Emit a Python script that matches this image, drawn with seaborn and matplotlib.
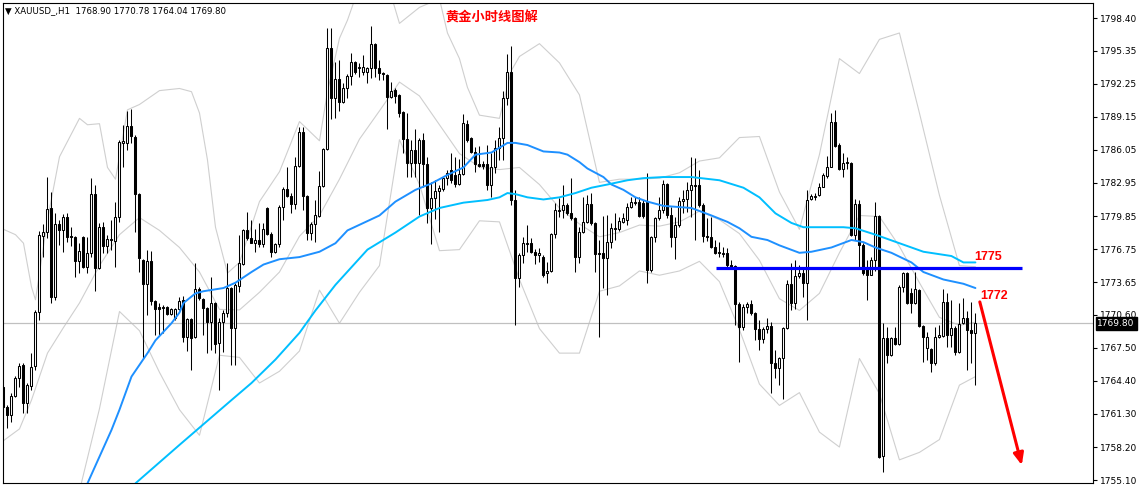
import numpy as np
import matplotlib
matplotlib.use("Agg")
import matplotlib.pyplot as plt
import matplotlib.transforms as mtransforms
import seaborn as sns


# XAUUSD H1 candles (oldest first)
opens = [
    1763.8, 1761.95, 1761.2, 1763.0, 1764.7, 1765.9, 1762.3, 1763.9, 1765.8, 1770.9,
    1778.0, 1778.35, 1780.6, 1772.3, 1779.1, 1778.5, 1779.8, 1777.95, 1777.9, 1775.6,
    1777.9, 1775.1, 1776.4, 1781.9, 1775.0, 1778.8, 1777.0, 1777.7, 1777.5, 1779.8,
    1786.7, 1786.7, 1788.3, 1787.25, 1781.9, 1775.7, 1773.5, 1775.6, 1771.9, 1771.3,
    1771.3, 1771.3, 1770.7, 1770.3, 1771.1, 1772.0, 1768.5, 1770.2, 1768.5, 1773.0,
    1772.1, 1771.2, 1769.9, 1771.7, 1767.95, 1769.9, 1770.8, 1773.1, 1769.35, 1773.3,
    1775.35, 1778.5, 1777.8, 1777.3, 1777.6, 1777.2, 1780.6, 1778.2, 1776.5, 1777.2,
    1780.7, 1782.4, 1781.7, 1781.0, 1784.5, 1787.7, 1781.7, 1778.25, 1779.1, 1779.85,
    1782.7, 1786.1, 1795.6, 1790.9, 1792.7, 1790.5, 1791.85, 1793.0, 1794.3, 1793.7,
    1793.3, 1793.3, 1793.7, 1796.0, 1793.7, 1793.25, 1793.1, 1791.0, 1791.65, 1791.2,
    1789.6, 1787.1, 1784.8, 1786.0, 1784.8, 1787.0, 1784.7, 1780.6, 1781.5, 1782.2,
    1782.4, 1783.4, 1784.2, 1783.7, 1782.85, 1783.8, 1788.5, 1787.15, 1785.85, 1784.7,
    1784.7, 1784.7, 1782.75, 1784.4, 1786.2, 1787.2, 1790.9, 1793.3, 1781.35, 1774.0,
    1776.2, 1777.25, 1777.3, 1776.5, 1776.2, 1776.0, 1774.5, 1774.7, 1778.2, 1780.35,
    1780.4, 1780.9, 1780.1, 1779.65, 1776.0, 1778.35, 1779.3, 1781.0, 1779.2, 1776.4,
    1776.4, 1775.9, 1777.4, 1778.65, 1778.6, 1779.3, 1779.5, 1780.7, 1781.1, 1781.2,
    1781.05, 1781.2, 1774.8, 1777.9, 1779.65, 1780.4, 1782.85, 1779.95, 1777.9, 1779.0,
    1781.25, 1781.45, 1782.3, 1782.75, 1782.75, 1780.9, 1778.0, 1777.9, 1776.95, 1776.45,
    1776.4, 1776.4, 1775.25, 1775.15, 1771.6, 1769.45, 1771.3, 1771.6, 1770.75, 1769.25,
    1768.3, 1769.25, 1769.55, 1766.1, 1765.6, 1766.55, 1769.35, 1773.5, 1771.7, 1774.2,
    1774.5, 1773.6, 1781.45, 1781.6, 1781.8, 1782.55, 1783.6, 1784.45, 1788.65, 1786.5,
    1784.25, 1784.9, 1784.8, 1778.05, 1780.95, 1777.1, 1774.95, 1774.3, 1775.7, 1779.85,
    1757.35, 1768.4, 1766.8, 1768.4, 1767.85, 1773.2, 1774.5, 1772.6, 1771.7, 1772.9,
    1769.55, 1767.5, 1767.4, 1766.05, 1768.5, 1768.6, 1771.8, 1768.7, 1769.35, 1767.1,
    1769.8, 1770.3, 1769.2, 1768.90,
]
highs = [
    1764.0, 1762.1, 1763.3, 1764.9, 1766.1, 1766.1, 1764.2, 1767.0, 1771.0, 1778.4,
    1779.1, 1783.5, 1782.1, 1780.1, 1779.5, 1780.0, 1780.1, 1778.8, 1778.0, 1777.3,
    1778.0, 1777.9, 1783.4, 1782.8, 1779.2, 1779.3, 1778.1, 1779.5, 1781.2, 1787.0,
    1788.4, 1789.7, 1789.9, 1787.4, 1782.0, 1775.8, 1776.7, 1776.6, 1772.0, 1771.7,
    1771.5, 1771.4, 1771.2, 1771.2, 1772.3, 1772.4, 1770.3, 1770.3, 1775.4, 1773.2,
    1772.2, 1771.3, 1774.1, 1771.8, 1770.3, 1771.0, 1775.4, 1773.2, 1773.6, 1778.1,
    1778.6, 1780.2, 1779.5, 1778.6, 1779.2, 1779.2, 1780.7, 1778.35, 1777.3, 1780.9,
    1782.6, 1784.4, 1782.0, 1785.4, 1788.2, 1788.2, 1781.8, 1779.3, 1781.35, 1784.1,
    1786.2, 1797.5, 1797.5, 1794.3, 1794.5, 1792.3, 1793.2, 1795.1, 1794.4, 1794.2,
    1794.9, 1793.8, 1797.7, 1796.1, 1794.5, 1793.3, 1793.2, 1792.4, 1791.8, 1791.3,
    1789.7, 1789.5, 1787.0, 1788.0, 1787.2, 1787.6, 1785.4, 1783.0, 1783.2, 1782.75,
    1783.5, 1784.2, 1785.8, 1785.4, 1785.2, 1789.4, 1788.85, 1787.25, 1786.3, 1786.4,
    1785.0, 1786.5, 1785.75, 1787.0, 1788.2, 1791.6, 1795.0, 1795.8, 1782.3, 1776.4,
    1777.9, 1779.0, 1777.8, 1776.75, 1776.85, 1776.2, 1775.5, 1778.25, 1781.1, 1781.5,
    1782.75, 1781.1, 1783.4, 1779.75, 1778.8, 1781.6, 1781.8, 1782.0, 1779.3, 1777.6,
    1779.85, 1779.95, 1779.2, 1780.1, 1779.75, 1780.1, 1781.1, 1781.6, 1781.6, 1781.6,
    1781.35, 1783.9, 1778.0, 1779.75, 1781.6, 1783.2, 1782.95, 1780.7, 1779.75, 1781.6,
    1782.3, 1783.0, 1785.4, 1785.3, 1784.2, 1781.1, 1779.65, 1779.75, 1777.6, 1777.4,
    1776.95, 1776.85, 1775.7, 1775.25, 1771.8, 1771.6, 1771.8, 1772.0, 1770.85, 1770.1,
    1769.45, 1770.3, 1769.9, 1767.3, 1766.6, 1769.45, 1773.85, 1775.45, 1775.75, 1775.25,
    1774.95, 1782.3, 1781.9, 1782.0, 1782.95, 1783.9, 1785.5, 1789.5, 1789.8, 1786.7,
    1785.75, 1785.4, 1784.9, 1781.45, 1781.35, 1777.3, 1775.7, 1776.0, 1781.15, 1779.95,
    1769.8, 1769.45, 1768.5, 1769.45, 1773.4, 1774.6, 1774.6, 1773.1, 1774.6, 1773.0,
    1769.65, 1769.0, 1767.5, 1769.45, 1769.6, 1773.0, 1772.6, 1771.95, 1769.55, 1771.7,
    1772.2, 1770.95, 1771.8, 1770.78,
]
lows = [
    1760.0, 1760.0, 1760.55, 1762.9, 1763.8, 1761.4, 1761.4, 1763.55, 1765.4, 1770.1,
    1776.0, 1777.8, 1771.7, 1772.0, 1777.1, 1776.5, 1777.4, 1777.0, 1774.1, 1774.5,
    1775.0, 1774.5, 1776.0, 1772.8, 1774.9, 1776.4, 1776.4, 1776.7, 1775.1, 1779.3,
    1784.4, 1786.0, 1786.7, 1778.35, 1774.6, 1766.5, 1770.6, 1771.5, 1768.7, 1768.7,
    1768.9, 1770.6, 1770.6, 1770.1, 1771.0, 1768.0, 1767.2, 1765.4, 1768.4, 1772.0,
    1768.7, 1767.0, 1767.3, 1767.0, 1763.5, 1767.1, 1770.4, 1765.9, 1765.9, 1772.7,
    1775.3, 1777.6, 1777.3, 1776.5, 1776.9, 1776.9, 1778.1, 1776.0, 1776.4, 1776.9,
    1779.5, 1781.6, 1780.1, 1780.5, 1784.4, 1780.4, 1777.6, 1777.6, 1777.4, 1779.8,
    1782.6, 1786.0, 1788.9, 1789.0, 1789.7, 1790.4, 1790.9, 1792.1, 1793.2, 1792.9,
    1793.1, 1792.3, 1792.8, 1792.9, 1792.6, 1792.6, 1788.0, 1790.9, 1790.4, 1789.1,
    1785.75, 1783.5, 1783.5, 1783.5, 1779.9, 1782.6, 1779.2, 1777.2, 1779.6, 1778.35,
    1782.2, 1782.8, 1782.9, 1782.6, 1782.75, 1783.7, 1786.8, 1785.75, 1784.0, 1784.4,
    1784.3, 1782.3, 1781.6, 1783.9, 1785.1, 1785.1, 1790.25, 1780.9, 1769.6, 1773.2,
    1775.45, 1776.5, 1776.4, 1775.35, 1775.5, 1774.1, 1773.6, 1774.6, 1777.8, 1779.75,
    1779.65, 1779.95, 1779.5, 1774.6, 1775.45, 1778.25, 1779.2, 1779.0, 1774.6, 1768.5,
    1773.1, 1772.45, 1776.85, 1777.6, 1778.45, 1779.2, 1779.0, 1780.6, 1780.9, 1779.75,
    1779.65, 1773.55, 1774.6, 1777.4, 1779.5, 1780.1, 1779.65, 1776.95, 1775.8, 1778.8,
    1780.1, 1780.2, 1779.75, 1777.6, 1780.7, 1777.4, 1777.5, 1776.85, 1776.3, 1776.0,
    1776.0, 1775.1, 1775.0, 1769.6, 1766.2, 1769.2, 1770.75, 1770.6, 1768.25, 1767.3,
    1767.95, 1768.9, 1763.3, 1764.7, 1764.0, 1762.7, 1769.25, 1771.05, 1771.1, 1774.05,
    1772.25, 1770.1, 1781.35, 1781.35, 1781.7, 1782.55, 1783.4, 1784.4, 1786.3, 1784.2,
    1783.5, 1784.25, 1777.95, 1777.6, 1775.1, 1774.3, 1771.95, 1774.3, 1774.7, 1757.2,
    1755.85, 1766.1, 1766.7, 1767.75, 1767.75, 1772.75, 1771.6, 1770.75, 1771.6, 1769.45,
    1766.2, 1766.35, 1765.25, 1765.9, 1768.4, 1768.5, 1767.6, 1767.6, 1766.8, 1767.0,
    1769.7, 1765.4, 1766.05, 1764.04,
]
closes = [
    1761.95, 1761.2, 1763.0, 1764.7, 1765.8, 1762.3, 1764.0, 1765.7, 1770.9, 1778.1,
    1778.35, 1780.5, 1772.3, 1779.1, 1778.5, 1779.8, 1777.9, 1777.85, 1775.6, 1776.6,
    1775.1, 1776.4, 1781.9, 1775.0, 1778.8, 1777.0, 1777.7, 1777.6, 1779.8, 1786.8,
    1786.9, 1788.3, 1787.3, 1781.9, 1775.9, 1773.5, 1775.6, 1771.9, 1771.1, 1771.1,
    1771.2, 1770.7, 1771.1, 1771.1, 1771.9, 1768.5, 1770.2, 1768.4, 1773.0, 1772.2,
    1771.2, 1769.9, 1771.7, 1767.9, 1769.9, 1770.8, 1773.1, 1769.4, 1773.4, 1775.4,
    1778.5, 1777.8, 1777.3, 1777.6, 1777.2, 1778.6, 1778.2, 1776.5, 1777.2, 1780.7,
    1782.4, 1781.7, 1781.0, 1784.5, 1787.7, 1781.7, 1778.25, 1779.1, 1779.95, 1782.7,
    1786.1, 1795.6, 1790.9, 1792.7, 1790.5, 1791.8, 1793.0, 1794.3, 1793.3, 1793.8,
    1793.8, 1793.7, 1796.0, 1793.7, 1793.25, 1793.15, 1791.0, 1791.6, 1791.1, 1789.5,
    1787.1, 1784.8, 1786.0, 1784.8, 1787.0, 1784.7, 1780.6, 1781.5, 1782.2, 1782.5,
    1783.4, 1783.9, 1783.2, 1782.85, 1783.8, 1788.6, 1787.0, 1785.85, 1784.7, 1784.5,
    1784.5, 1782.75, 1784.4, 1786.2, 1787.2, 1790.9, 1793.3, 1781.35, 1774.0, 1776.2,
    1777.3, 1777.35, 1776.5, 1776.2, 1776.4, 1774.3, 1774.7, 1778.2, 1780.4, 1780.45,
    1780.9, 1780.1, 1779.65, 1776.0, 1778.35, 1779.3, 1781.0, 1779.2, 1776.3, 1776.3,
    1775.9, 1777.4, 1778.7, 1778.75, 1779.4, 1779.65, 1780.7, 1781.2, 1781.2, 1779.85,
    1779.85, 1774.8, 1777.9, 1779.65, 1780.4, 1782.85, 1779.95, 1777.9, 1779.0, 1781.25,
    1781.45, 1782.3, 1782.75, 1782.65, 1780.9, 1778.0, 1777.9, 1776.95, 1776.4, 1776.35,
    1776.3, 1775.25, 1775.1, 1771.6, 1769.45, 1771.3, 1771.6, 1770.75, 1769.25, 1768.3,
    1769.25, 1769.55, 1766.1, 1765.6, 1766.55, 1769.35, 1773.5, 1771.7, 1774.2, 1774.5,
    1773.6, 1781.35, 1781.7, 1781.7, 1782.55, 1783.7, 1784.45, 1788.65, 1786.4, 1784.25,
    1784.8, 1784.8, 1778.05, 1780.95, 1777.1, 1774.5, 1774.3, 1775.7, 1779.85, 1757.25,
    1768.4, 1766.8, 1768.4, 1767.85, 1773.2, 1774.5, 1771.7, 1771.7, 1773.0, 1769.55,
    1768.5, 1768.5, 1766.05, 1768.5, 1768.7, 1771.8, 1768.7, 1769.35, 1767.1, 1769.7,
    1770.3, 1769.15, 1768.9, 1769.80,
]

# bollinger envelope (light grey), sampled by bar index
upper_x = [0, 3, 5, 7, 8, 9, 11, 14, 19, 21, 24, 26, 28, 31, 34, 39, 44, 47, 49, 51,
           53, 56, 59, 64, 69, 74, 79, 81, 84, 86, 89, 94, 99, 104, 109, 111, 114, 116, 119, 124,
           127, 129, 134, 139, 144, 149, 154, 159, 164, 169, 174, 179, 184, 189, 194, 199, 204, 209, 214, 219,
           224, 229, 234, 239, 243]
upper_y = [1778.6, 1778.1, 1777.3, 1773.2, 1772.0, 1774.5, 1779.5, 1785.4, 1789.0, 1788.4,
           1788.5, 1784.4, 1783.3, 1789.8, 1790.3, 1791.6, 1791.8, 1791.5, 1789.5, 1785.1,
           1778.8, 1774.5, 1775.5, 1781.2, 1784.0, 1788.7, 1786.9, 1791.5, 1796.5, 1798.2,
           1801.4, 1804.2, 1797.9, 1799.4, 1800.2, 1797.0, 1794.6, 1791.9, 1789.3, 1789.0,
           1793.5, 1794.8, 1796.0, 1794.2, 1791.2, 1783.0, 1783.3, 1783.3, 1783.4, 1783.9,
           1785.0, 1785.3, 1787.2, 1787.3, 1782.1, 1778.6, 1785.6, 1794.6, 1793.2, 1796.4,
           1797.0, 1789.5, 1781.8, 1775.2, 1775.1]
mid_x = [0, 4, 7, 11, 15, 19, 24, 29, 34, 39, 44, 49, 54, 59, 64, 69, 74, 79, 84, 89,
         94, 99, 104, 109, 114, 119, 124, 129, 134, 139, 144, 149, 154, 159, 164, 169, 174, 179, 184, 189,
         194, 199, 204, 209, 214, 219, 224, 229, 234, 239, 243]
mid_y = [1758.8, 1759.9, 1762.6, 1767.0, 1769.4, 1771.7, 1775.2, 1778.1, 1779.7, 1778.5,
         1776.9, 1774.6, 1771.1, 1771.05, 1772.7, 1774.6, 1777.95, 1779.9, 1783.3, 1787.05,
         1789.7, 1792.4, 1791.1, 1788.4, 1785.7, 1784.45, 1784.2, 1784.4, 1782.8, 1780.6,
         1779.1, 1777.9, 1778.3, 1779.0, 1778.9, 1779.3, 1780.3, 1779.5, 1778.2, 1775.7,
         1772.1, 1771.0, 1772.6, 1776.4, 1779.9, 1779.8, 1777.0, 1773.6, 1770.35, 1769.6,
         1769.9]
lower_x = [0, 7, 14, 19, 24, 29, 34, 39, 44, 49, 54, 59, 64, 69, 74, 79, 84, 89, 94, 99,
           104, 109, 114, 119, 124, 129, 134, 139, 144, 149, 154, 159, 164, 169, 174, 179, 184, 189, 194, 199,
           204, 209, 214, 219, 224, 229, 234, 239, 243]
lower_y = [1739.0, 1752.0, 1753.4, 1754.1, 1761.8, 1770.9, 1769.1, 1765.2, 1761.7, 1759.3,
           1766.8, 1766.6, 1764.2, 1765.3, 1767.2, 1772.9, 1769.8, 1772.7, 1775.2, 1787.0,
           1782.8, 1776.6, 1776.7, 1779.4, 1779.3, 1773.9, 1769.3, 1767.0, 1767.0, 1772.8,
           1773.3, 1774.7, 1774.3, 1774.7, 1775.6, 1773.7, 1769.2, 1764.1, 1762.1, 1763.3,
           1759.6, 1758.2, 1766.5, 1763.2, 1757.0, 1757.7, 1758.9, 1764.0, 1764.8]

# the two moving averages
ma_fast_x = [21, 27, 29, 32, 36, 38, 42, 44, 45, 48, 50, 55, 58, 60, 62, 65, 69, 74, 79, 81,
             83, 86, 90, 94, 98, 103, 107, 111, 115, 118, 122, 126, 128, 131, 135, 139, 141, 144, 146, 150,
             152, 155, 158, 161, 165, 172, 177, 181, 184, 187, 191, 194, 199, 202, 207, 212, 215, 218, 222, 227,
             230, 235, 240, 243]
ma_fast_y = [1754.8, 1759.8, 1761.7, 1764.8, 1767.0, 1768.2, 1769.8, 1770.8, 1771.7, 1772.6,
             1772.8, 1773.1, 1773.6, 1774.1, 1774.6, 1775.3, 1775.8, 1776.0, 1776.5, 1776.9,
             1777.3, 1778.5, 1779.2, 1779.9, 1781.2, 1782.3, 1782.9, 1783.7, 1784.4, 1785.6,
             1785.8, 1786.7, 1786.7, 1786.5, 1785.9, 1785.8, 1785.6, 1784.9, 1784.3, 1783.5,
             1782.8, 1782.3, 1781.6, 1781.2, 1780.8, 1780.6, 1779.9, 1779.3, 1778.7, 1777.9,
             1777.6, 1777.1, 1776.4, 1776.5, 1776.9, 1777.6, 1777.4, 1776.9, 1776.4, 1775.5,
             1774.6, 1773.9, 1773.5, 1773.1]
ma_slow_x = [33, 44, 57, 62, 68, 74, 78, 83, 91, 98, 104, 109, 115, 121, 124, 126, 128, 131, 135, 139,
             143, 147, 151, 156, 160, 165, 172, 179, 185, 189, 193, 197, 200, 207, 210, 213, 218, 224, 230, 237,
             240, 243]
ma_slow_y = [1754.8, 1758.4, 1762.6, 1764.2, 1766.4, 1768.9, 1771.0, 1773.4, 1776.7, 1778.3,
             1779.8, 1780.6, 1781.1, 1781.35, 1781.6, 1782.0, 1781.9, 1781.6, 1781.4, 1781.6,
             1782.0, 1782.5, 1782.8, 1783.2, 1783.4, 1783.5, 1783.5, 1783.2, 1782.5, 1781.6,
             1780.1, 1779.2, 1778.8, 1778.8, 1778.8, 1778.7, 1778.1, 1777.3, 1776.5, 1776.1,
             1775.5, 1775.5]

yticks = [1798.40, 1795.35, 1792.25, 1789.15, 1786.05, 1782.95, 1779.85, 1776.75,
          1773.65, 1770.60, 1767.50, 1764.40, 1761.30, 1758.20, 1755.10]
last_price = 1769.80

# drawn-in analysis
level_price = 1775.0
level_from, level_to = 178.1, 254.6
label_texts = ["1775", "1772"]
label_bars = [242.6, 244.1]
label_prices = [1776.0, 1772.4]
arrow_from = (244.1, 1771.8)
arrow_to = (254.6, 1756.5)


sns.set_style("white")
plt.rcParams["font.family"] = ["DejaVu Sans"]

fig = plt.figure(figsize=(11.39, 4.86), dpi=100)
ax = fig.add_axes([2.5 / 1139, 3 / 486, 1090.5 / 1139, 480 / 486])

o = np.array(opens)
h = np.array(highs)
l = np.array(lows)
c = np.array(closes)
bars = np.arange(len(c))
up = c >= o

# envelope lines
for xs, ys in [(upper_x, upper_y), (mid_x, mid_y), (lower_x, lower_y)]:
    sns.lineplot(x=xs, y=ys, ax=ax, color="#cfcfcf", lw=0.8, zorder=1)

ax.axhline(last_price, color="#c0c0c0", lw=0.9, zorder=1)

# candles
ax.vlines(bars, l, h, color="black", lw=0.75, zorder=3)
body = np.maximum(np.abs(c - o), 0.03)
ax.bar(bars[up], body[up], bottom=o[up], width=0.5, color="white",
       edgecolor="black", lw=0.75, zorder=4)
ax.bar(bars[~up], body[~up], bottom=c[~up], width=0.5, color="black",
       edgecolor="black", lw=0.75, zorder=4)

# moving averages
sns.lineplot(x=ma_fast_x, y=ma_fast_y, ax=ax, color="#1e90ff", lw=1.4, zorder=5)
sns.lineplot(x=ma_slow_x, y=ma_slow_y, ax=ax, color="#00bfff", lw=1.4, zorder=5)

# support line, labels, arrow
ax.hlines(level_price, level_from, level_to, color="#0000ff", lw=2.3, zorder=6)
for t, bx, py in zip(label_texts, label_bars, label_prices):
    ax.text(bx, py, t, color="#ff0000", fontsize=9, fontweight="bold", ha="left",
            va="center", family="Liberation Sans", zorder=7)
ax.annotate("", xy=arrow_to, xytext=arrow_from,
            arrowprops=dict(arrowstyle="-|>,head_length=0.7,head_width=0.3",
                            color="#ff0000", lw=2.2, shrinkA=0, shrinkB=0),
            zorder=7)

ax.set_xlim(-0.25, 272.4)
ax.set_ylim(1754.83, 1799.81)
ax.set_xticks([])
ax.set_xlabel("")
ax.set_ylabel("")
ax.yaxis.tick_right()
ax.set_yticks(yticks)
ax.set_yticklabels([f"{v:.2f}" for v in yticks])
ax.tick_params(axis="y", direction="out", length=3, width=0.8, labelsize=6.5,
               pad=2, colors="black", right=True, left=False)
for s in ax.spines.values():
    s.set_color("black")
    s.set_linewidth(0.8)

trans = mtransforms.blended_transform_factory(ax.transAxes, ax.transData)
ax.text(1.004, last_price, f"{last_price:.2f}", transform=trans, ha="left",
        va="center", color="white", fontsize=6.5, clip_on=False, zorder=10,
        bbox=dict(boxstyle="square,pad=0.2", fc="black", ec="black"))

fig.text(5 / 1139, 1 - 11 / 486, "\u25bc XAUUSD_,H1  1768.90 1770.78 1764.04 1769.80",
         fontsize=6.2, va="center", ha="left", color="black")
fig.text(492 / 1139, 1 - 18 / 486, "黄金小时线图解", color="#ff0000", fontsize=9.5,
         fontweight="bold", ha="center", va="center",
         family=["Noto Sans CJK SC", "DejaVu Sans"])

fig.savefig("out.png", dpi=100)
